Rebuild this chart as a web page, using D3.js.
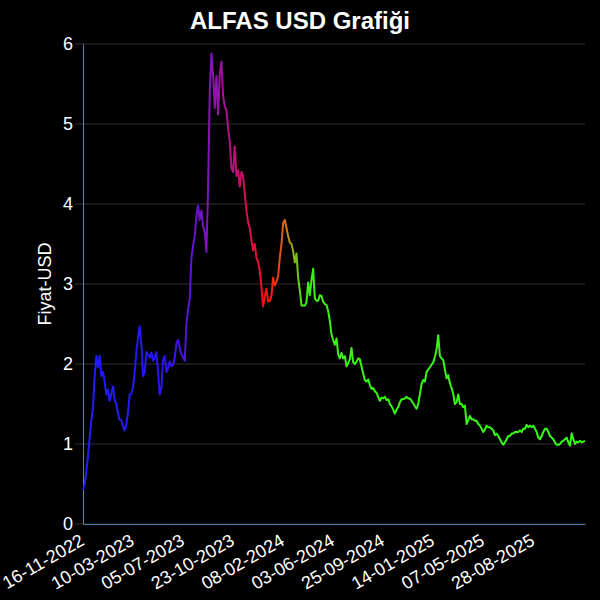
<!DOCTYPE html>
<html>
<head>
<meta charset="utf-8">
<script src="https://cdn.jsdelivr.net/npm/d3@7"></script>
<style>
  body { margin: 0; background: #000; }
  text { font-family: "Liberation Sans", Arial, sans-serif; fill: #fff; }
</style>
</head>
<body>
<div id="chart-ctn"></div>
<script>
// chart data
let title = "ALFAS USD Grafiği";
let yLabel = "Fiyat-USD";
let tickLabels = ["16-11-2022", "10-03-2023", "05-07-2023", "23-10-2023", "08-02-2024",
    "03-06-2024", "25-09-2024", "14-01-2025", "07-05-2025", "28-08-2025"];
let tickIdx = [0, 30, 60, 90, 120, 150, 180, 210, 240, 270];
let yTicks = [0, 1, 2, 3, 4, 5, 6];
let prices = [
    0.43, 0.5, 0.66, 0.85, 1.08, 1.3, 1.45, 1.85, 2.1, 1.96,
    2.1, 1.85, 1.9, 1.78, 1.62, 1.68, 1.54, 1.63, 1.72, 1.55,
    1.5, 1.38, 1.3, 1.3, 1.22, 1.17, 1.25, 1.4, 1.62, 1.63,
    1.71, 1.9, 2.15, 2.33, 2.47, 2.25, 1.85, 1.9, 2.15, 2.12,
    2.08, 2.14, 2.04, 2.08, 2.15, 1.9, 1.62, 1.7, 2.05, 2.1,
    1.9, 1.95, 2.03, 1.97, 1.99, 2.08, 2.26, 2.3, 2.2, 2.12,
    2.08, 2.04, 2.5, 2.68, 2.82, 3.32, 3.48, 3.6, 3.85, 3.98,
    3.8, 3.92, 3.72, 3.65, 3.4, 4.2, 5.4, 5.88, 5.62, 5.2,
    5.6, 5.12, 5.62, 5.78, 5.35, 5.22, 5.17, 4.95, 4.78, 4.45,
    4.4, 4.72, 4.35, 4.42, 4.22, 4.4, 4.35, 4.12, 3.92, 3.77,
    3.7, 3.55, 3.42, 3.5, 3.32, 3.28, 3.16, 2.96, 2.72, 2.85,
    2.94, 2.78, 2.79, 2.85, 3.08, 2.98, 3.03, 3.1, 3.33, 3.5,
    3.76, 3.8, 3.7, 3.6, 3.52, 3.5, 3.41, 3.27, 3.38, 3.08,
    2.92, 2.73, 2.73, 2.73, 2.77, 3.02, 2.86, 3.05, 3.19, 2.82,
    2.79, 2.79, 2.86, 2.85, 2.78, 2.75, 2.74, 2.66, 2.54, 2.37,
    2.3, 2.24, 2.32, 2.12, 2.07, 2.14, 2.07, 2.1, 1.97, 2.01,
    2.06, 2.2, 2.02, 2.0, 2.03, 2.07, 2.06, 1.97, 1.88, 1.8,
    1.78, 1.81, 1.74, 1.69, 1.7, 1.66, 1.64, 1.59, 1.54, 1.58,
    1.57, 1.59, 1.55, 1.56, 1.5, 1.47, 1.43, 1.38, 1.43, 1.46,
    1.52, 1.56, 1.56, 1.57, 1.59, 1.57, 1.57, 1.54, 1.51, 1.47,
    1.44, 1.5, 1.62, 1.75, 1.8, 1.78, 1.9, 1.93, 1.96, 1.99,
    2.02, 2.09, 2.18, 2.36, 2.1, 2.07, 2.05, 1.93, 1.82, 1.86,
    1.76, 1.7, 1.63, 1.5, 1.52, 1.62, 1.5, 1.5, 1.46, 1.48,
    1.25, 1.3, 1.35, 1.31, 1.31, 1.29, 1.29, 1.25, 1.23, 1.19,
    1.15, 1.18, 1.23, 1.21, 1.21, 1.19, 1.17, 1.11, 1.13, 1.1,
    1.06, 1.02, 0.99, 1.02, 1.06, 1.1, 1.1, 1.13, 1.13, 1.15,
    1.15, 1.15, 1.17, 1.15, 1.19, 1.19, 1.24, 1.21, 1.23, 1.21,
    1.23, 1.19, 1.15, 1.08, 1.06, 1.1, 1.15, 1.19, 1.19, 1.15,
    1.1, 1.08, 1.06, 1.02, 0.99, 0.99, 1.0, 1.03, 1.04, 1.06,
    1.08, 1.02, 0.98, 1.13, 1.06, 1.0, 1.03, 1.02, 1.04, 1.02,
    1.03, 1.04
];
// gradient along time: offset, colour
let gradOffsets = [0, 0.17, 0.22, 0.26, 0.30, 0.34, 0.365, 0.385, 0.405, 0.42, 0.44, 1];
let gradColors = ["#1e1eff", "#2a14f5", "#6412d2", "#8c14b0", "#b8127c", "#e01042",
    "#ff0c0c", "#f03412", "#d07a20", "#90b012", "#3cf014", "#33ff14"];

let margin = { top: 44, right: 15, bottom: 76, left: 83 };
let width = 600 - margin.left - margin.right;
let height = 600 - margin.top - margin.bottom;

let svg = d3.select("#chart-ctn")
    .append("svg")
    .attr("width", 600)
    .attr("height", 600)
    .style("background", "#000");

svg.append("text")
    .attr("x", 300)
    .attr("y", 29)
    .attr("text-anchor", "middle")
    .style("font-size", "24px")
    .style("font-weight", "bold")
    .text(title);

let g = svg.append("g")
    .attr("transform", `translate(${margin.left}, ${margin.top})`);

let x = d3.scaleLinear().domain([0, prices.length - 1]).range([0, width]);
let y = d3.scaleLinear().domain([0, 6]).range([height, 0]);

// grid
g.append("g")
    .selectAll("line")
    .data(yTicks)
    .join("line")
    .attr("x1", -8)
    .attr("x2", width)
    .attr("y1", (d) => y(d))
    .attr("y2", (d) => y(d))
    .attr("stroke", "#333")
    .attr("stroke-width", 1);

// y axis
let yAxis = d3.axisLeft(y).tickValues(yTicks).tickFormat(d3.format("d")).tickSize(0).tickPadding(10);
let yg = g.append("g").call(yAxis);
yg.select(".domain").attr("stroke", "#5a82aa");
yg.selectAll("text").style("font-size", "18px").attr("fill", "#fff");

// x axis
let xAxis = d3.axisBottom(x)
    .tickValues(tickIdx)
    .tickFormat((d, i) => tickLabels[i])
    .tickSize(0);
let xg = g.append("g")
    .attr("transform", "translate(0," + height + ")")
    .call(xAxis);
xg.select(".domain").attr("stroke", "#4a78a8");
xg.selectAll("text")
    .style("font-size", "18px")
    .attr("fill", "#fff")
    .attr("text-anchor", "end")
    .attr("dy", null)
    .attr("y", 0)
    .attr("transform", "translate(2,20) rotate(-30)");

// y label
g.append("text")
    .attr("transform", "rotate(-90)")
    .attr("x", -height / 2)
    .attr("y", -32)
    .attr("text-anchor", "middle")
    .style("font-size", "18px")
    .text(yLabel);

// gradient
let grad = svg.append("defs").append("linearGradient")
    .attr("id", "lineGrad")
    .attr("gradientUnits", "userSpaceOnUse")
    .attr("x1", x(0)).attr("x2", x(prices.length - 1))
    .attr("y1", 0).attr("y2", 0);
grad.selectAll("stop")
    .data(gradOffsets)
    .join("stop")
    .attr("offset", (d) => d)
    .attr("stop-color", (d, i) => gradColors[i]);

g.append("path")
    .datum(prices)
    .attr("fill", "none")
    .attr("stroke", "url(#lineGrad)")
    .attr("stroke-width", 2)
    .attr("stroke-linejoin", "round")
    .attr("d", d3.line().x((d, i) => x(i)).y((d) => y(d)));
</script>
</body>
</html>
